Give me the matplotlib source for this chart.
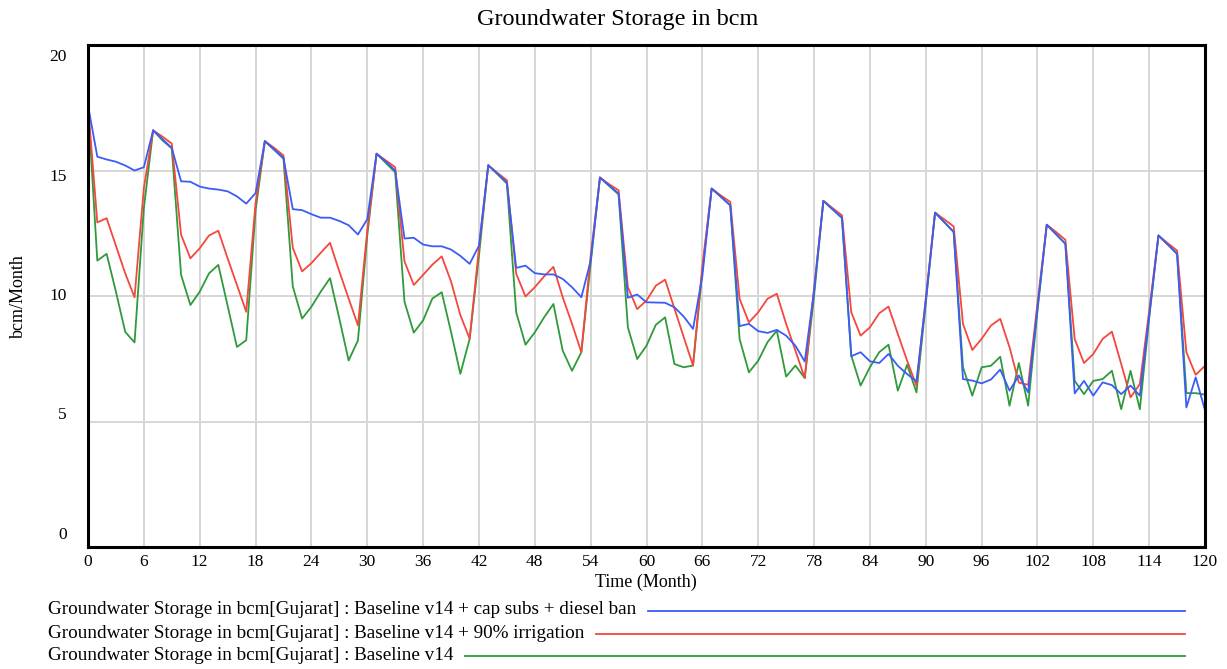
import matplotlib
matplotlib.use("Agg")
import matplotlib.pyplot as plt
import numpy as np

plt.rcParams["font.family"] = ["Liberation Serif", "DejaVu Serif"]

months = np.arange(0, 121)

# Groundwater storage (bcm) per month for each scenario run
cap_subs_diesel_ban = [
    17.6, 15.55, 15.44, 15.35, 15.2, 15.0, 15.13, 16.6, 16.25, 15.9,
    14.57, 14.55, 14.36, 14.28, 14.24, 14.17, 13.97, 13.68, 14.1, 16.17,
    15.84, 15.5, 13.46, 13.42, 13.26, 13.12, 13.12, 12.99, 12.82, 12.45,
    13.06, 15.67, 15.35, 15.0, 12.29, 12.32, 12.05, 11.98, 11.98, 11.85,
    11.6, 11.28, 12.0, 15.21, 14.87, 14.52, 11.12, 11.21, 10.91, 10.86,
    10.86, 10.68, 10.35, 9.95, 11.4, 14.72, 14.4, 14.08, 9.93, 10.06,
    9.75, 9.74, 9.73, 9.55, 9.18, 8.69, 10.8, 14.28, 13.95, 13.61,
    8.8, 8.89, 8.6, 8.53, 8.65, 8.42, 8.02, 7.39, 10.2, 13.79,
    13.45, 13.11, 7.6, 7.76, 7.4, 7.33, 7.69, 7.22, 6.89, 6.6,
    9.8, 13.32, 12.94, 12.55, 6.69, 6.63, 6.52, 6.67, 7.07, 6.23,
    6.83, 6.16, 9.5, 12.84, 12.46, 12.08, 6.12, 6.62, 6.03, 6.56,
    6.45, 6.09, 6.43, 6.03, 9.2, 12.41, 12.05, 11.68, 5.56, 6.76,
    5.45,
]

irrigation_90 = [
    17.6, 12.93, 13.1, 12.0, 10.9, 9.95, 14.3, 16.6, 16.35, 16.07,
    12.44, 11.5, 11.9, 12.41, 12.6, 11.5, 10.44, 9.37, 13.7, 16.17,
    15.9, 15.6, 11.92, 10.98, 11.31, 11.72, 12.12, 10.98, 9.9, 8.83,
    12.6, 15.67, 15.4, 15.13, 11.38, 10.44, 10.84, 11.25, 11.58, 10.58,
    9.24, 8.3, 11.9, 15.21, 14.9, 14.61, 10.89, 9.98, 10.35, 10.78,
    11.16, 9.95, 8.89, 7.76, 11.6, 14.72, 14.45, 14.21, 10.35, 9.48,
    9.82, 10.41, 10.65, 9.5, 8.36, 7.23, 11.2, 14.28, 14.0, 13.75,
    9.89, 8.95, 9.35, 9.89, 10.09, 8.89, 7.82, 6.73, 10.3, 13.79,
    13.5, 13.21, 9.35, 8.42, 8.75, 9.31, 9.58, 8.49, 7.42, 6.43,
    9.9, 13.32, 13.05, 12.77, 8.89, 7.85, 8.29, 8.82, 9.09, 7.96,
    6.55, 6.46, 9.7, 12.84, 12.55, 12.24, 8.29, 7.33, 7.69, 8.29,
    8.58, 7.29, 5.96, 6.49, 9.4, 12.41, 12.1, 11.81, 7.76, 6.86,
    7.22,
]

baseline = [
    17.6, 11.41, 11.68, 10.17, 8.57, 8.15, 13.5, 16.6, 16.2, 15.88,
    10.84, 9.64, 10.17, 10.9, 11.24, 9.61, 7.97, 8.24, 13.4, 16.17,
    15.82, 15.47, 10.38, 9.1, 9.57, 10.17, 10.71, 9.1, 7.43, 8.23,
    12.4, 15.67, 15.3, 14.93, 9.77, 8.54, 9.03, 9.9, 10.15, 8.57,
    6.9, 8.29, 11.6, 15.21, 14.85, 14.48, 9.35, 8.06, 8.55, 9.15,
    9.68, 7.82, 7.02, 7.76, 11.3, 14.72, 14.38, 14.05, 8.75, 7.49,
    8.02, 8.85, 9.15, 7.29, 7.16, 7.23, 11.0, 14.28, 13.95, 13.61,
    8.29, 6.96, 7.42, 8.16, 8.62, 6.79, 7.23, 6.73, 10.0, 13.79,
    13.45, 13.11, 7.62, 6.43, 7.16, 7.76, 8.06, 6.23, 7.26, 6.16,
    9.7, 13.32, 12.94, 12.55, 7.16, 6.03, 7.16, 7.22, 7.58, 5.63,
    7.33, 5.63, 9.4, 12.84, 12.46, 12.08, 6.62, 6.09, 6.62, 6.69,
    7.02, 5.49, 7.02, 5.49, 9.1, 12.41, 12.05, 11.68, 6.13, 6.13,
    6.07,
]

series_labels = [
    "Groundwater Storage in bcm[Gujarat] : Baseline v14 + cap subs + diesel ban",
    "Groundwater Storage in bcm[Gujarat] : Baseline v14 + 90% irrigation",
    "Groundwater Storage in bcm[Gujarat] : Baseline v14",
]
series_colors = ["#3b5cf6", "#f4473d", "#2f9a3b"]

x_ticks = list(range(0, 121, 6))
y_ticks = [0, 5, 10, 15, 20]

W, H = 1227, 669


def px_x(p):
    return p / W


def px_y(p):
    return 1 - p / H


def main():
    fig = plt.figure(figsize=(W / 100, H / 100), dpi=100)
    ax = fig.add_axes([px_x(88), px_y(547), (1205 - 88) / W, (547 - 45) / H])

    # green first so blue sits on top where runs coincide
    data = [cap_subs_diesel_ban, irrigation_90, baseline]
    for values, color in reversed(list(zip(data, series_colors))):
        ax.plot(months, values, color=color, lw=1.3, zorder=3)

    ax.set_xlim(0, 120)
    ax.set_ylim(0, 20)
    ax.set_xticks(x_ticks)
    ax.set_xticklabels([str(t) for t in x_ticks], fontsize=12.5)
    ax.set_yticks(y_ticks)
    ax.set_yticklabels([])
    ax.tick_params(length=0, pad=5)
    ax.grid(True, color="#d6d6d6", lw=1.4, zorder=0)
    for s in ax.spines.values():
        s.set_linewidth(2.2)
        s.set_color("black")
        s.set_zorder(4)

    # y labels are spread evenly inside the frame
    for i, v in enumerate(y_ticks):
        frac = 0.024 + i * 0.238
        ax.text(-0.019, frac, str(v), transform=ax.transAxes,
                ha="right", va="center", fontsize=12.5)

    fig.text(px_x(618), px_y(19), "Groundwater Storage in bcm",
             ha="center", va="center", fontsize=17.5)
    fig.text(px_x(646), px_y(582), "Time (Month)",
             ha="center", va="center", fontsize=13)
    fig.text(px_x(18), px_y(296), "bcm/Month", rotation=90,
             ha="center", va="center", fontsize=13)

    # legend rows: label followed by a line sample out to a fixed right edge
    renderer = fig.canvas.get_renderer()
    for label, color, row_y in zip(series_labels, series_colors, [610, 633, 655]):
        t = fig.text(px_x(48), px_y(row_y), label, ha="left", va="center",
                     fontsize=13.8)
        x_end = t.get_window_extent(renderer).x1
        line_y = px_y(row_y + 1)
        fig.add_artist(plt.Line2D([px_x(x_end + 12), px_x(1185)], [line_y, line_y],
                                  color=color, lw=1.3, transform=fig.transFigure))

    fig.savefig("out.png", dpi=100)


if __name__ == "__main__":
    main()
